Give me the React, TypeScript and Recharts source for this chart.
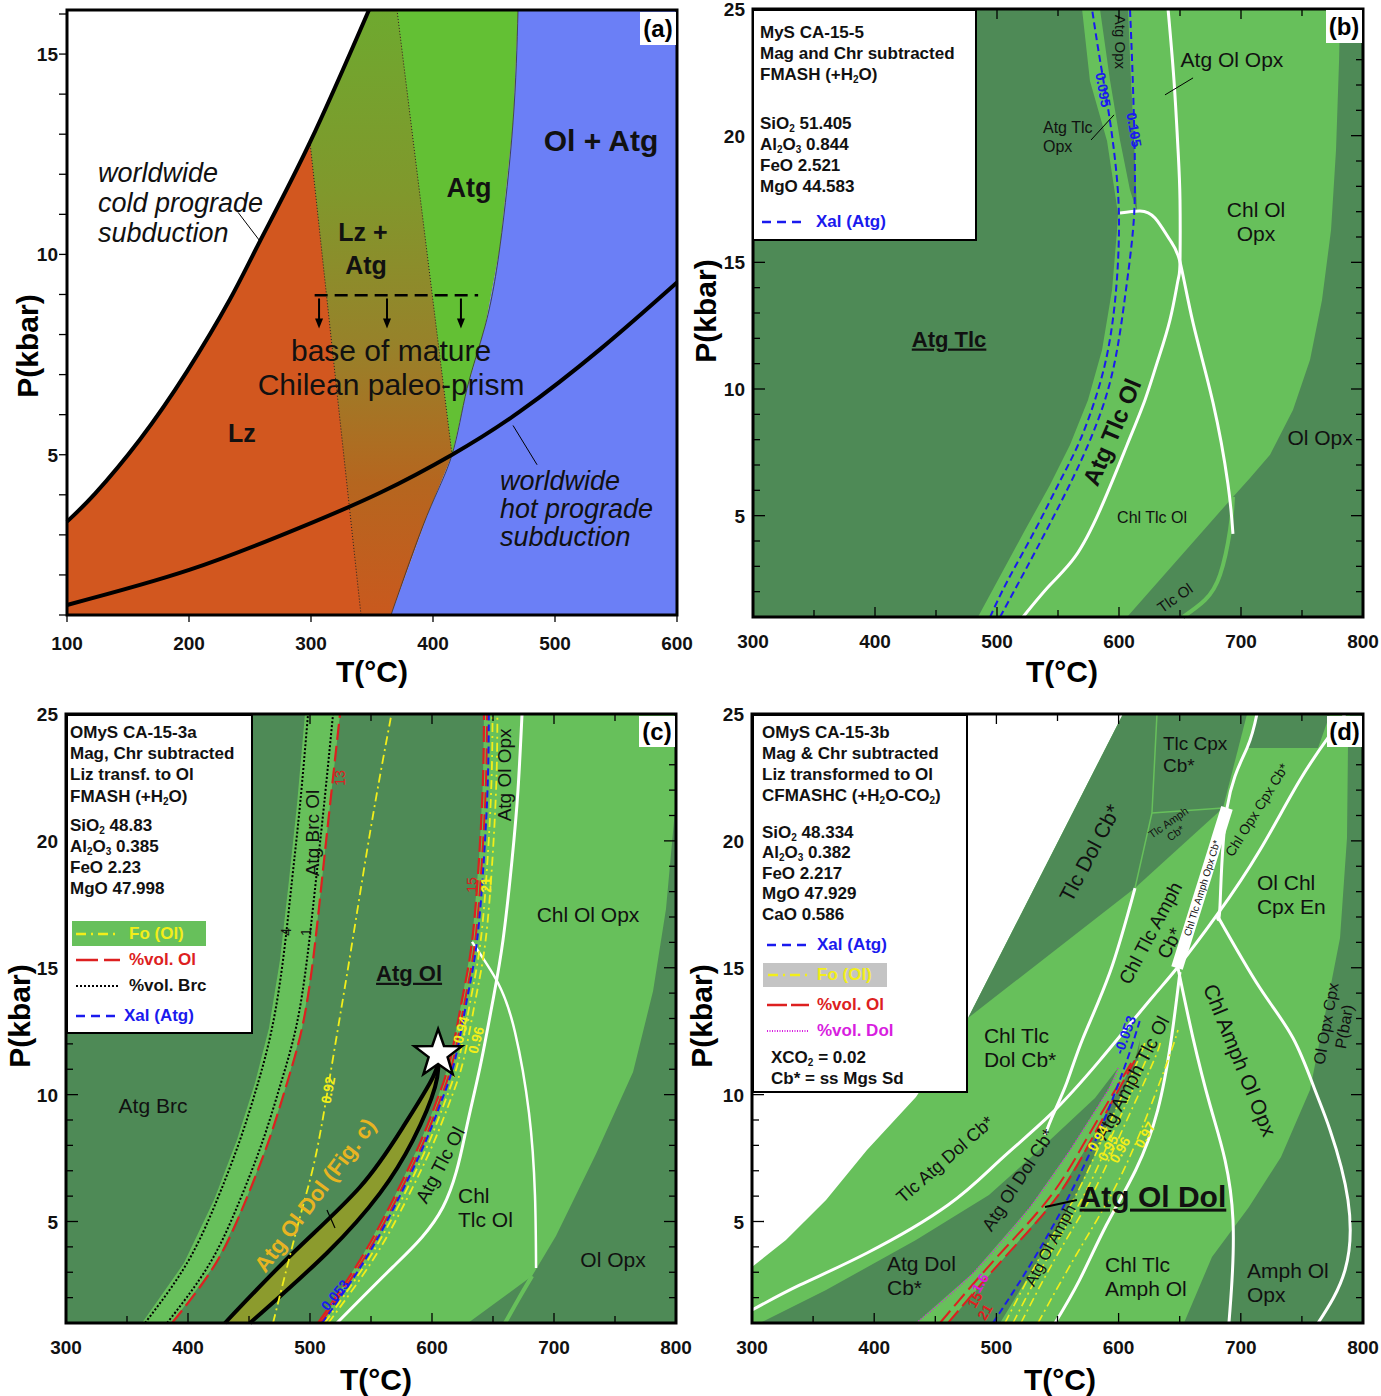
import React from 'react';
import { ComposedChart, Scatter, XAxis, YAxis } from 'recharts';

const FONT = "'Liberation Sans', Arial, Helvetica, sans-serif";

const DARK = '#4e8a56';
const LIGHT = '#67c05b';
const WHITE = '#ffffff';
const BLUE = '#1a1aee';
const RED = '#dd2020';
const YELLOW = '#f2ee1a';
const MAGENTA = '#d81ee0';

const ML = 60;
const MT = 12;
const MR = 16;
const MB = 80;

type Pt = [number, number];
const toXY = (a: Pt[]) => a.map(([x, y]) => ({ x, y }));

// ---------- axes ----------
const ticksA_T = [100, 200, 300, 400, 500, 600];
const ticksA_P = [1, 2, 3, 4, 5, 6, 7, 8, 9, 10, 11, 12, 13, 14, 15, 16];
const ticksT = [300, 350, 400, 450, 500, 550, 600, 650, 700, 750, 800];
const ticksP = [1, 2, 3, 4, 5, 6, 7, 8, 9, 10, 11, 12, 13, 14, 15, 16, 17, 18, 19, 20, 21, 22, 23, 24, 25];

// ---------- panel (a) ----------
const aCold: Pt[] = [[100, 3.33], [123, 4.03], [159.8, 5.38], [198.4, 7.08], [233.6, 8.88], [258.2, 10.33], [299.2, 12.8], [347.5, 16.1]];
const aHot: Pt[] = [[100, 1.25], [200.8, 2.13], [291, 3.18], [356.6, 4.05], [415.6, 5.0], [471.3, 6.08], [536.9, 7.63], [600, 9.3]];
const aAtgOut: Pt[] = [[469.7, 16.1], [465.6, 13.3], [454.9, 10.2], [442.6, 8.2], [427.9, 6.65], [415.6, 5.0], [395.1, 3.48], [365.6, 1]];
const aLzOut: Pt[] = [[370.5, 16.1], [415.6, 5.0]];
const aLzIn: Pt[] = [[299.2, 12.8], [341, 1]];
const aBase: Pt[] = [[303, 8.98], [437, 8.98]];
const aArrows = [{ x: 306.6, y: 8.9 }, { x: 362.3, y: 8.9 }, { x: 422.9, y: 8.9 }];
const aLeadCold: Pt[] = [[240.2, 11.05], [258.2, 10.33]];
const aLeadHot: Pt[] = [[465.6, 5.73], [485.3, 4.75]];

const aItalic = [
  { t: 'worldwide', x: 125.4, y: 12.05 }, { t: 'cold prograde', x: 125.4, y: 11.3 }, { t: 'subduction', x: 125.4, y: 10.55 },
  { t: 'worldwide', x: 454.9, y: 4.35 }, { t: 'hot prograde', x: 454.9, y: 3.65 }, { t: 'subduction', x: 454.9, y: 2.95 },
];
const aBoldMid = [{ t: 'Lz +', x: 342.6, y: 10.55 }, { t: 'Atg', x: 345.1, y: 9.73 }, { t: 'Lz', x: 243.4, y: 5.53 }];
const aBoldAtg = [{ t: 'Atg', x: 429.5, y: 11.68 }];
const aBoldOl = [{ t: 'Ol + Atg', x: 537.7, y: 12.85 }];
const aPrism = [{ t: 'base of mature', x: 365.6, y: 7.6 }, { t: 'Chilean paleo-prism', x: 365.6, y: 6.75 }];

// ---------- panel (b) ----------
const bL: Pt[] = [[484.4, 1], [500.8, 2.46], [523, 4.43], [543.4, 6.21], [559.8, 7.79], [574.6, 9.57], [586.1, 11.54], [594.3, 13.91], [598.4, 16.28], [599.2, 16.92], [590.2, 19.79], [576.2, 22.16], [569.7, 25]];
const bR: Pt[] = [[781.2, 25], [780.4, 22.99], [777.9, 19.44], [773.8, 16.28], [766.4, 13.51], [756.6, 11.15], [742.6, 9.17], [723.8, 7.4], [707.4, 6.49], [693.4, 5.74]];
const bWedge: Pt[] = [[693.4, 5.74], [606.6, 1]];
const bAtgOpx: Pt[] = [[584.4, 25], [592.6, 22.2], [600.8, 19.83], [609, 17.86], [614.8, 17], [612.3, 19.83], [609.8, 22.2], [607.4, 25]];
const bTlcOlEdge: Pt[] = [[693.4, 5.74], [691, 4.43], [682.8, 2.66], [670.5, 1.67], [652.5, 1]];
const bX095: Pt[] = [[494.3, 1], [509, 2.46], [531.2, 4.43], [550, 6.21], [566.4, 7.79], [580.3, 9.57], [591, 11.54], [597.6, 13.91], [600, 16.28], [598.4, 18.25], [592.6, 20.58], [584.4, 22.99], [577.9, 25]];
const bX105: Pt[] = [[502.5, 1], [518.9, 2.46], [539.4, 4.32], [558.2, 6.09], [574.6, 7.79], [588.5, 9.57], [598.4, 11.54], [605.7, 13.91], [611.5, 16.28], [613.1, 18.25], [612.3, 20.58], [610.7, 22.99], [609, 25]];
const bW1: Pt[] = [[521.3, 1], [543.4, 2.26], [563.9, 3.37], [584.4, 5.22], [606.6, 7.79], [621.3, 9.57], [631.2, 11.03], [641.8, 12.73], [648.4, 14.3], [650, 15.02], [650, 17.46], [648.4, 19.44], [645.1, 22.16], [640.2, 25]];
const bW2: Pt[] = [[600.8, 16.95], [617.2, 17.03], [629.5, 16.75], [641.8, 15.88], [650, 15.02], [660.7, 12.61], [677.1, 9.45], [689.3, 6.25], [693.4, 4.28]];
const bLeadA: Pt[] = [[577.1, 19.83], [595.9, 20.82]];
const bLeadB: Pt[] = [[637.7, 21.61], [660.7, 22.28]];

const b21 = [{ t: 'Atg Ol Opx', x: 692.6, y: 22.99 }, { t: 'Chl Ol\nOpx', x: 712.3, y: 16.61 }, { t: 'Ol Opx', x: 764.8, y: 8.07 }];
const b16 = [{ t: 'Chl Tlc Ol', x: 627.1, y: 4.95 }];
const b16Left = [{ t: 'Atg Tlc\nOpx', x: 537.7, y: 19.95 }];
const b15Rot = [{ t: 'Atg Opx', x: 600.8, y: 23.7, r: 90 }, { t: 'Tlc Ol', x: 645.9, y: 1.75, r: -35 }];
const bBoldU = [{ t: 'Atg Tlc', x: 460.7, y: 11.98 }];
const bBoldRot = [{ t: 'Atg Tlc Ol', x: 594.3, y: 8.3, r: -67 }];
const bBlueLbl = [{ t: '0.095', x: 586.9, y: 21.81, r: 80 }, { t: '0.105', x: 612.3, y: 20.23, r: 80 }];

// ---------- panel (c) ----------
const cBrc4: Pt[] = [[364.8, 1], [399.2, 3.36], [423.8, 5.85], [442.6, 8.21], [457.4, 10.46], [468.9, 12.63], [477.9, 15.31], [485.3, 18.46], [491.8, 21.41], [498.4, 25]];
const cBrc1: Pt[] = [[382.8, 1], [418, 3.36], [442.6, 5.85], [461.5, 8.21], [476.2, 10.46], [488.5, 12.63], [497.5, 15.31], [504.9, 18.46], [511.5, 21.41], [518.9, 25]];
const cRed13: Pt[] = [[386.9, 1], [422.9, 3.36], [447.5, 5.85], [466.4, 8.21], [481.2, 10.46], [493.5, 12.63], [502.5, 15.31], [509.8, 18.46], [516.4, 21.41], [524.6, 25]];
const cBrcEdge: Pt[] = [[362.3, 1], [396.7, 3.36], [421.3, 5.85], [440.1, 8.21], [454.9, 10.46], [466.4, 12.63], [475.4, 15.31], [482.8, 18.46], [489.3, 21.41], [495.9, 25]];
const cY92: Pt[] = [[469.7, 1], [491.8, 5.18], [505.7, 7.82], [519.7, 11.68], [533.6, 15.7], [550, 20.55], [566.8, 25]];
const cBandA: Pt[] = [[430.3, 1], [486.1, 3.76], [541, 6.36], [576.2, 8.72], [600.8, 10.69], [605, 11.6]];
const cBandB: Pt[] = [[450.8, 1], [513.9, 3.76], [557.4, 6.12], [584.4, 8.21], [602.5, 10.3], [605, 11.6]];
const cStar = [{ x: 605, y: 11.6 }];
const cTick: Pt[] = [[513.9, 5.45], [520.5, 4.74]];
const cBase: Pt[] = [[506.6, 1], [541, 3.48], [568, 5.85], [590.2, 8.09], [604.1, 9.79], [614.8, 11.36], [624.6, 13.73], [632.8, 16.02], [638.5, 19.25], [641.8, 22.4], [642.6, 25]];
const cRed21: Pt[] = [[508.6, 1], [543.5, 3.48], [570.5, 5.85], [592.7, 8.09], [606.6, 9.79], [617.3, 11.36], [627.1, 13.73], [635.3, 16.02], [641, 19.25], [644.3, 22.4], [645.1, 25]];
const cBlue: Pt[] = [[510, 1], [545, 3.48], [572, 5.85], [594.2, 8.09], [608.1, 9.79], [618.8, 11.36], [628.6, 13.73], [636.8, 16.02], [642.5, 19.25], [645.8, 22.4], [646.6, 25]];
const cY94: Pt[] = [[512, 1], [547.5, 3.48], [575, 5.85], [597.2, 8.09], [611.1, 9.79], [621.8, 11.36], [631.6, 13.73], [639.8, 16.02], [645.5, 19.25], [648.8, 22.4], [649.6, 25]];
const cY96: Pt[] = [[515, 1], [551.5, 3.48], [579, 5.85], [601.2, 8.09], [615.1, 9.79], [625.8, 11.36], [635.6, 13.73], [643.8, 16.02], [649.5, 19.25], [652.8, 22.4], [653.6, 25]];
const cW1: Pt[] = [[522.1, 1], [568, 3.21], [609, 5.57], [627.9, 8.61], [639.4, 11.09], [650, 13.73], [658.2, 16.09], [665.6, 19.25], [670.5, 22.01], [673.8, 25]];
const cW2: Pt[] = [[632.8, 16.02], [654.1, 14.4], [668, 12.47], [679.5, 9.28], [684.4, 6.04], [685.3, 3.17]];
const cOpxEdge: Pt[] = [[800, 21.65], [791.8, 17.32], [781.2, 14.08], [764.8, 10.89], [734.4, 7.66], [701.6, 4.43], [682, 2.85]];
const cWedge: Pt[] = [[682, 2.85], [629.5, 1]];
const cLightEdge: Pt[] = [[682, 2.85], [670.5, 1.91], [659.9, 1]];

const c21 = [{ t: 'Atg Brc', x: 371.3, y: 9.55 }, { t: 'Chl Ol Opx', x: 727.9, y: 17.08 }, { t: 'Ol Opx', x: 748.4, y: 3.48 }];
const c21Left = [{ t: 'Chl\nTlc Ol', x: 621.3, y: 5.55 }];
const c19Rot = [{ t: 'Atg Brc Ol', x: 501.6, y: 20.31, r: -90 }, { t: 'Atg Ol Opx', x: 659, y: 22.6, r: -90 }, { t: 'Atg Tlc Ol', x: 606.6, y: 7.23, r: -62 }];
const cBoldU = [{ t: 'Atg Ol', x: 581.2, y: 14.79 }];
const cGold = [{ t: 'Atg Ol Dol (Fig. c)', x: 504.1, y: 6.04, r: -53 }];
const cNum = [{ t: '4', x: 480.3, y: 16.41, r: -90 }, { t: '1', x: 496.7, y: 16.41, r: -90 }];
const cRedLbl = [{ t: '13', x: 524.6, y: 22.48, r: -90 }, { t: '15', x: 632.8, y: 18.26, r: -90 }];
const cYelLbl = [{ t: '21', x: 644.3, y: 18.26, r: -90 }, { t: '0.92', x: 514.8, y: 10.18, r: -80 }, { t: '0.94', x: 623.8, y: 12.55, r: -75 }, { t: '0.96', x: 636.1, y: 12.15, r: -75 }];
const cBlueLbl = [{ t: '0.053', x: 520.5, y: 2.1, r: -50 }];

// ---------- panel (d) ----------
const dWhite: Pt[] = [[300, 25], [603.6, 25], [476.8, 13.02], [434.2, 9.91], [394.1, 7.82], [360.6, 5.85], [327.8, 4.27], [300, 3.21]];
const dD1: Pt[] = [[603.6, 25], [705.1, 25], [685.4, 21.3], [613.4, 18.14], [476.8, 13.02]];
const dD1LineA: Pt[] = [[631.4, 25], [627.3, 21.1], [613.4, 18.14]];
const dD1LineB: Pt[] = [[627.3, 21.1], [685.4, 21.3]];
const dD2: Pt[] = [[713.2, 25], [773, 25], [763.2, 23.66], [705.9, 23.66]];
const dD3: Pt[] = [[789.4, 25], [800, 25], [800, 1], [653.5, 1], [676.4, 3.6], [706.7, 5.57], [732.9, 7.54], [756.6, 10.18], [770.5, 13.53], [781.2, 16.17], [786.9, 20.11], [787.7, 23.66]];
const dD4Left: Pt[] = [[306.5, 1], [360.6, 2.3], [434.2, 4.27], [493.9, 6.04], [543.9, 8.21], [580.7, 9.87], [599.5, 11.05]];
const dMag: Pt[] = [[599.5, 11.05], [591.3, 10.18], [560.2, 7.82], [527.5, 5.57], [480.8, 2.97], [434.2, 1]];
const dD5: Pt[] = [[460.4, 1], [507, 3.6], [549.6, 5.97], [580.7, 8.49], [613.4, 11.36], [617.5, 12.15], [615.9, 11.36], [588.9, 8.49], [564.3, 5.97], [535.7, 3.6], [503, 1]];
const dRed15: Pt[] = [[453.8, 1], [500.5, 3.6], [543.9, 5.97], [576.6, 8.49], [611.8, 11.36]];
const dRed21: Pt[] = [[460.4, 1], [507, 3.6], [549.6, 5.97], [580.7, 8.49], [613.4, 11.36]];
const dBlue: Pt[] = [[497.2, 1], [531.6, 3.6], [561.9, 6.24], [587.2, 8.88], [606.9, 11.36], [617.5, 12.94]];
const dY94: Pt[] = [[507, 1], [535.7, 3.6], [564.3, 5.97], [588.9, 8.49], [615.9, 11.36], [621.6, 12.15]];
const dY95: Pt[] = [[513.6, 1], [542.2, 3.6], [570.9, 5.97], [595.4, 8.49], [622.4, 11.36], [627.3, 12.15]];
const dY96: Pt[] = [[520.1, 1], [548.8, 3.6], [577.4, 5.97], [602, 8.49], [629, 11.36], [633.9, 12.15]];
const dY97: Pt[] = [[534, 1], [564.3, 3.6], [593, 5.97], [617.5, 8.49], [640.4, 11.36], [648.6, 12.55]];
const dW1: Pt[] = [[300, 1.51], [339.3, 2.5], [394.1, 3.76], [460.4, 5.65], [502.9, 7.42], [543.9, 9.2], [584.8, 11.36], [625.7, 13.73], [647.8, 14.99], [680.5, 17.08], [715.7, 19.64], [748.4, 22.4], [773, 24.17], [785.3, 25]];
const dW2: Pt[] = [[613.4, 18.14], [593, 14.83], [570.9, 12.23], [557.8, 10.5], [546.3, 9.2], [539.8, 8.41]];
const dW3: Pt[] = [[713.2, 25], [705.1, 23.66], [688.7, 21.3], [683, 17.47], [680.5, 17.08]];
const dW4: Pt[] = [[688.7, 21.3], [647.8, 14.99]];
const dW5: Pt[] = [[648.6, 14.99], [660.9, 12.23], [674.8, 9.59], [687.1, 7.42], [693.6, 5.06], [692.8, 2.69], [690.3, 1]];
const dW6: Pt[] = [[680.5, 17.08], [715.7, 14.2], [742.7, 12.23], [760.7, 10.18], [773, 8.61], [787.7, 5.85], [785.3, 3.09], [763.2, 1]];
const dW8: Pt[] = [[650.2, 14.83], [643, 12.15], [632, 9.39], [614, 7.03], [590, 4.86], [568, 2.69], [548, 1]];
const dLead: Pt[] = [[539.8, 5.57], [565.9, 5.85]];

const d21 = [{ t: 'Ol Chl\nCpx En', x: 713.2, y: 17.87 }, { t: 'Chl Tlc\nDol Cb*', x: 489.8, y: 11.86 }, { t: 'Atg Dol\nCb*', x: 410.5, y: 2.88 }, { t: 'Chl Tlc\nAmph Ol', x: 588.9, y: 2.82 }, { t: 'Amph Ol\nOpx', x: 705.1, y: 2.6 }];
const d19Left = [{ t: 'Tlc Cpx\nCb*', x: 636.3, y: 23.41 }];
const d21Rot = [{ t: 'Tlc Dol Cb*', x: 576.6, y: 19.52, r: -62 }, { t: 'Chl Amph Ol Opx', x: 699.3, y: 11.36, r: 68 }];
const d19Rot = [{ t: 'Chl Tlc Amph\nCb*', x: 633.9, y: 16.17, r: -62 }, { t: 'Atg Amph Tlc Ol', x: 611, y: 10.66, r: -62 }];
const d18Rot = [{ t: 'Tlc Atg Dol Cb*', x: 457.9, y: 7.45, r: -41 }, { t: 'Atg Ol Dol Cb*', x: 517.7, y: 6.64, r: -57 }];
const d16Rot = [{ t: 'Atg Ol Amph', x: 543.9, y: 4.07, r: -62 }, { t: 'Ol Opx Cpx\nP(bar)', x: 777.1, y: 12.74, r: -80 }];
const d14Rot = [{ t: 'Chl Opx Cpx Cb*', x: 713.2, y: 21.22, r: -58 }];
const d11Rot = [{ t: 'Tlc Amph\nCb*', x: 643.7, y: 20.51, r: -35 }];
const d10Rot = [{ t: 'Chl Tlc Amph Opx Cb*', x: 668.2, y: 18.14, r: -72.6 }];
const dBoldU = [{ t: 'Atg Ol Dol', x: 628.1, y: 6.0 }];
const dYelLbl = [{ t: '0.94', x: 583.1, y: 8.29, r: -60 }, { t: '0.95', x: 591.3, y: 7.9, r: -60 }, { t: '0.96', x: 601.1, y: 7.82, r: -60 }, { t: '0.97', x: 621.6, y: 8.41, r: -60 }];
const dBlueLbl = [{ t: '-0.053', x: 605.2, y: 12.35, r: -70 }];
const dMagLbl = [{ t: '1.6', x: 486.6, y: 2.58, r: -60 }];
const dRedLbl = [{ t: '15', x: 482.5, y: 1.91, r: -60 }, { t: '21', x: 490.7, y: 1.43, r: -60 }];

// ---------- drawing helpers ----------
const none = () => <g />;

const fillPoly = (key: string, pts: Pt[], fill: string) => (
  <Scatter key={key} data={toXY(pts)} shape={none} line={{ fill, stroke: 'none' }} lineJointType="linear" isAnimationActive={false} />
);

const strokeLine = (key: string, pts: Pt[], stroke: string, width: number, dash?: string, joint: any = 'natural') => (
  <Scatter
    key={key}
    data={toXY(pts)}
    shape={none}
    line={{ stroke, strokeWidth: width, strokeDasharray: dash, fill: 'none' }}
    lineJointType={joint}
    isAnimationActive={false}
  />
);

interface TxtStyle {
  size: number;
  weight?: number;
  italic?: boolean;
  color?: string;
  anchor?: 'start' | 'middle' | 'end';
  underline?: boolean;
}

const txt = (st: TxtStyle) => (p: any) => {
  const { cx, cy, payload } = p;
  if (cx == null || cy == null || !payload) return <g />;
  const lines = String(payload.t).split('\n');
  const lh = st.size * 1.15;
  const y0 = cy - ((lines.length - 1) * lh) / 2 + st.size * 0.35;
  return (
    <text
      transform={payload.r ? `rotate(${payload.r} ${cx} ${cy})` : undefined}
      textAnchor={st.anchor || 'middle'}
      style={{
        fontFamily: FONT,
        fontSize: st.size,
        fontWeight: st.weight || 400,
        fontStyle: st.italic ? 'italic' : 'normal',
        fill: st.color || '#111',
        textDecoration: st.underline ? 'underline' : 'none',
      }}
    >
      {lines.map((l, i) => (
        <tspan key={i} x={cx} y={y0 + i * lh}>
          {l}
        </tspan>
      ))}
    </text>
  );
};

const textLayer = (key: string, items: any[], st: TxtStyle) => (
  <Scatter key={key} data={items} shape={txt(st)} isAnimationActive={false} />
);

const starShape = (p: any) => {
  const { cx, cy } = p;
  const pts: string[] = [];
  for (let i = 0; i < 10; i++) {
    const rad = i % 2 === 0 ? 25 : 10;
    const a = (-90 + i * 36) * (Math.PI / 180);
    pts.push(`${cx + rad * Math.cos(a)},${cy + rad * Math.sin(a)}`);
  }
  return <polygon points={pts.join(' ')} fill="#fff" stroke="#000" strokeWidth={2.5} strokeLinejoin="miter" />;
};

const arrowShape = (p: any) => {
  const { cx, cy } = p;
  return (
    <g>
      <line x1={cx} y1={cy} x2={cx} y2={cy + 22} stroke="#000" strokeWidth={2} />
      <path d={`M${cx - 4},${cy + 20} L${cx + 4},${cy + 20} L${cx},${cy + 30} Z`} fill="#000" />
    </g>
  );
};

const tickFont = { fontFamily: FONT, fontSize: 19, fontWeight: 700, fill: '#111' };

const mkXTick = (ph: number, inward: boolean) => (p: any) => {
  const v = p.payload.value;
  const x = p.x;
  const yb = MT + ph;
  if (!inward) {
    return (
      <g>
        <line x1={x} x2={x} y1={yb} y2={yb + 7} stroke="#000" strokeWidth={1.3} />
        <text x={x} y={yb + 35} textAnchor="middle" style={tickFont}>{v}</text>
      </g>
    );
  }
  const major = v % 100 === 0;
  const len = major ? 10 : 7;
  return (
    <g>
      <line x1={x} x2={x} y1={yb} y2={yb - len} stroke="#000" strokeWidth={1.3} />
      <line x1={x} x2={x} y1={MT} y2={MT + len} stroke="#000" strokeWidth={1.3} />
      {major && <text x={x} y={yb + 31} textAnchor="middle" style={tickFont}>{v}</text>}
    </g>
  );
};

const mkYTick = (pw: number, inward: boolean) => (p: any) => {
  const v = p.payload.value;
  const y = p.y;
  const major = v % 5 === 0;
  if (!inward) {
    return (
      <g>
        <line x1={ML - 8} x2={ML} y1={y} y2={y} stroke="#000" strokeWidth={1.3} />
        {major && <text x={ML - 9} y={y + 7} textAnchor="end" style={tickFont}>{v}</text>}
      </g>
    );
  }
  const len = major ? 12 : 7;
  return (
    <g>
      <line x1={ML} x2={ML + len} y1={y} y2={y} stroke="#000" strokeWidth={1.3} />
      <line x1={ML + pw} x2={ML + pw - len} y1={y} y2={y} stroke="#000" strokeWidth={1.3} />
      {major && <text x={ML - 8} y={y + 7} textAnchor="end" style={tickFont}>{v}</text>}
    </g>
  );
};

interface PanelProps {
  px: number;
  py: number;
  pw: number;
  ph: number;
  xDom: [number, number];
  yDom: [number, number];
  xTicks: number[];
  yTicks: number[];
  inward: boolean;
  children: React.ReactNode;
}

const Panel = ({ px, py, pw, ph, xDom, yDom, xTicks, yTicks, inward, children }: PanelProps) => {
  const W = pw + ML + MR;
  const H = ph + MT + MB;
  const frame: Pt[] = [[xDom[0], yDom[0]], [xDom[1], yDom[0]], [xDom[1], yDom[1]], [xDom[0], yDom[1]]];
  return (
    <div style={{ position: 'absolute', left: px - ML, top: py - MT, width: W, height: H }}>
      <ComposedChart width={W} height={H} margin={{ top: MT, right: MR, left: 0, bottom: 0 }}>
        <defs>
          <linearGradient id="oliveGrad" x1="0" y1="0" x2="0" y2="1">
            <stop offset="0%" stopColor="#6ea92f" />
            <stop offset="30%" stopColor="#80982c" />
            <stop offset="55%" stopColor="#97822a" />
            <stop offset="78%" stopColor="#b5661f" />
            <stop offset="100%" stopColor="#c9591e" />
          </linearGradient>
        </defs>
        {children}
        {strokeLine('frame', frame, '#000', 3, undefined, 'linearClosed')}
        <XAxis
          type="number"
          dataKey="x"
          domain={xDom}
          ticks={xTicks}
          interval={0}
          height={MB}
          axisLine={false}
          tickLine={false}
          tickSize={0}
          tickMargin={0}
          tick={mkXTick(ph, inward)}
        />
        <YAxis
          type="number"
          dataKey="y"
          domain={yDom}
          ticks={yTicks}
          interval={0}
          width={ML}
          axisLine={false}
          tickLine={false}
          tickSize={0}
          tickMargin={0}
          tick={mkYTick(pw, inward)}
        />
      </ComposedChart>
    </div>
  );
};

// ---------- html annotations ----------
const Title = ({ x, y, text, rot }: { x: number; y: number; text: string; rot?: boolean }) => (
  <div
    style={{
      position: 'absolute',
      left: x,
      top: y,
      transform: `translate(-50%, -50%)${rot ? ' rotate(-90deg)' : ''}`,
      fontFamily: FONT,
      fontWeight: 700,
      fontSize: 30,
      whiteSpace: 'nowrap',
      lineHeight: '32px',
    }}
  >
    {text}
  </div>
);

const Tag = ({ x, y, w, h, text }: { x: number; y: number; w: number; h: number; text: string }) => (
  <div
    style={{
      position: 'absolute',
      left: x,
      top: y,
      width: w,
      height: h,
      background: '#fff',
      fontFamily: FONT,
      fontWeight: 700,
      fontSize: 24,
      lineHeight: `${h}px`,
      textAlign: 'center',
    }}
  >
    {text}
  </div>
);

const Box = ({ x, y, w, h }: { x: number; y: number; w: number; h: number }) => (
  <div style={{ position: 'absolute', left: x, top: y, width: w, height: h, background: '#fff', border: '2px solid #000', boxSizing: 'border-box' }} />
);

const Row = ({ x, y, color, children }: { x: number; y: number; color?: string; children: React.ReactNode }) => (
  <div
    style={{
      position: 'absolute',
      left: x,
      top: y - 11,
      fontFamily: FONT,
      fontWeight: 700,
      fontSize: 17,
      lineHeight: '22px',
      color: color || '#111',
      whiteSpace: 'nowrap',
    }}
  >
    {children}
  </div>
);

const Sub = ({ c }: { c: string }) => <span style={{ fontSize: 10, verticalAlign: '-3px' }}>{c}</span>;

const Sample = ({ x, y, w, stroke, dash, width }: { x: number; y: number; w: number; stroke: string; dash?: string; width: number }) => (
  <svg style={{ position: 'absolute', left: x, top: y - 5 }} width={w} height={10}>
    <line x1={0} y1={5} x2={w} y2={5} stroke={stroke} strokeWidth={width} strokeDasharray={dash} />
  </svg>
);

const Patch = ({ x, y, w, h, color }: { x: number; y: number; w: number; h: number; color: string }) => (
  <div style={{ position: 'absolute', left: x, top: y, width: w, height: h, background: color }} />
);

export default function App() {
  const orange: Pt[] = [[100, 1], ...aCold, ...aAtgOut];
  const blue: Pt[] = [...aAtgOut, [600, 1], [600, 16.1]];
  const olive: Pt[] = [...[...aLzIn].reverse(), aCold[aCold.length - 1], ...aLzOut, ...aAtgOut.slice(6)];
  const green: Pt[] = [...aLzOut, ...aAtgOut.slice(0, 6).reverse()];

  const bLight: Pt[] = [...bL, ...bR, bWedge[1]];
  const cLight: Pt[] = [...cBase, [800, 25], ...cOpxEdge, cWedge[1]];
  const cBrcBand: Pt[] = [...cBrcEdge, ...[...cRed13].reverse()];
  const cOlive: Pt[] = [...cBandA, ...[...cBandB].reverse()];
  const dD4: Pt[] = [...dD4Left, ...dMag.slice(1)];

  const DASH_BLUE = '7 4';
  const DASH_RED = '16 6';
  const DASH_YEL = '9 4 2 4';

  return (
    <div style={{ position: 'absolute', left: 0, top: 0, width: 1381, height: 1396, background: '#fff', overflow: 'hidden' }}>
      {/* (a) */}
      <Panel px={67} py={10} pw={610} ph={605} xDom={[100, 600]} yDom={[1, 16.1]} xTicks={ticksA_T} yTicks={ticksA_P} inward={false}>
        {fillPoly('a-or', orange, '#d2571f')}
        {fillPoly('a-bl', blue, '#6b7ff6')}
        {fillPoly('a-ol', olive, 'url(#oliveGrad)')}
        {fillPoly('a-gr', green, '#63c034')}
        {strokeLine('a-lzin', aLzIn, '#222', 1, '1 2', 'linear')}
        {strokeLine('a-lzout', aLzOut, '#222', 1, '1 2', 'linear')}
        {strokeLine('a-atg', aAtgOut, '#333', 0.8)}
        {strokeLine('a-cold', aCold, '#000', 4)}
        {strokeLine('a-hot', aHot, '#000', 4)}
        {strokeLine('a-base', aBase, '#000', 2.5, '13 7', 'linear')}
        <Scatter key="a-arr" data={aArrows} shape={arrowShape} isAnimationActive={false} />
        {strokeLine('a-l1', aLeadCold, '#000', 1, undefined, 'linear')}
        {strokeLine('a-l2', aLeadHot, '#000', 1, undefined, 'linear')}
        {textLayer('a-it', aItalic, { size: 27, italic: true, anchor: 'start' })}
        {textLayer('a-b1', aBoldMid, { size: 25, weight: 700 })}
        {textLayer('a-b2', aBoldAtg, { size: 27, weight: 700 })}
        {textLayer('a-b3', aBoldOl, { size: 30, weight: 700 })}
        {textLayer('a-pr', aPrism, { size: 30 })}
      </Panel>

      {/* (b) */}
      <Panel px={753} py={9} pw={610} ph={608} xDom={[300, 800]} yDom={[1, 25]} xTicks={ticksT} yTicks={ticksP} inward>
        {fillPoly('b-bg', [[300, 1], [800, 1], [800, 25], [300, 25]], DARK)}
        {fillPoly('b-li', bLight, LIGHT)}
        {fillPoly('b-ao', bAtgOpx, DARK)}
        {strokeLine('b-te', bTlcOlEdge, LIGHT, 4)}
        {strokeLine('b-w1', bW1, WHITE, 3)}
        {strokeLine('b-w2', bW2, WHITE, 3)}
        {strokeLine('b-x1', bX095, BLUE, 2, DASH_BLUE)}
        {strokeLine('b-x2', bX105, BLUE, 2, DASH_BLUE)}
        {strokeLine('b-la', bLeadA, '#000', 1, undefined, 'linear')}
        {strokeLine('b-lb', bLeadB, '#000', 1, undefined, 'linear')}
        {textLayer('b-t21', b21, { size: 21 })}
        {textLayer('b-t16', b16, { size: 16 })}
        {textLayer('b-t16l', b16Left, { size: 16, anchor: 'start' })}
        {textLayer('b-t15', b15Rot, { size: 15 })}
        {textLayer('b-bu', bBoldU, { size: 22, weight: 700, underline: true })}
        {textLayer('b-br', bBoldRot, { size: 24, weight: 700 })}
        {textLayer('b-bl', bBlueLbl, { size: 14, weight: 700, color: BLUE })}
      </Panel>

      {/* (c) */}
      <Panel px={66} py={714} pw={610} ph={609} xDom={[300, 800]} yDom={[1, 25]} xTicks={ticksT} yTicks={ticksP} inward>
        {fillPoly('c-bg', [[300, 1], [800, 1], [800, 25], [300, 25]], DARK)}
        {fillPoly('c-brc', cBrcBand, LIGHT)}
        {fillPoly('c-li', cLight, LIGHT)}
        {strokeLine('c-le', cLightEdge, LIGHT, 4)}
        {fillPoly('c-ol', cOlive, '#8c9b2d')}
        {strokeLine('c-ba', cBandA, '#000', 4)}
        {strokeLine('c-bb', cBandB, '#000', 4)}
        {strokeLine('c-tk', cTick, '#000', 1.2, undefined, 'linear')}
        {strokeLine('c-b4', cBrc4, '#000', 2, '2 2')}
        {strokeLine('c-b1', cBrc1, '#000', 2, '2 2')}
        {strokeLine('c-r13', cRed13, RED, 2.2, DASH_RED)}
        {strokeLine('c-y92', cY92, YELLOW, 1.8, DASH_YEL)}
        {strokeLine('c-w1', cW1, WHITE, 3)}
        {strokeLine('c-w2', cW2, WHITE, 2.5)}
        {strokeLine('c-r15', cBase, RED, 2.2, DASH_RED)}
        {strokeLine('c-r21', cRed21, RED, 2, DASH_RED)}
        {strokeLine('c-bl', cBlue, BLUE, 2, DASH_BLUE)}
        {strokeLine('c-y94', cY94, YELLOW, 1.8, DASH_YEL)}
        {strokeLine('c-y96', cY96, YELLOW, 1.8, DASH_YEL)}
        <Scatter key="c-star" data={cStar} shape={starShape} isAnimationActive={false} />
        {textLayer('c-t21', c21, { size: 21 })}
        {textLayer('c-t21l', c21Left, { size: 21, anchor: 'start' })}
        {textLayer('c-t19', c19Rot, { size: 19 })}
        {textLayer('c-bu', cBoldU, { size: 22, weight: 700, underline: true })}
        {textLayer('c-gd', cGold, { size: 22, weight: 700, color: '#e8b422' })}
        {textLayer('c-nm', cNum, { size: 14 })}
        {textLayer('c-rl', cRedLbl, { size: 14, color: RED })}
        {textLayer('c-yl', cYelLbl, { size: 14, weight: 700, color: YELLOW })}
        {textLayer('c-bll', cBlueLbl, { size: 14, weight: 700, color: BLUE })}
      </Panel>

      {/* (d) */}
      <Panel px={752} py={714} pw={611} ph={609} xDom={[300, 800]} yDom={[1, 25]} xTicks={ticksT} yTicks={ticksP} inward>
        {fillPoly('d-bg', [[300, 1], [800, 1], [800, 25], [300, 25]], LIGHT)}
        {fillPoly('d-wh', dWhite, WHITE)}
        {fillPoly('d-d1', dD1, DARK)}
        {fillPoly('d-d2', dD2, DARK)}
        {fillPoly('d-d3', dD3, DARK)}
        {fillPoly('d-d4', dD4, DARK)}
        {fillPoly('d-d5', dD5, DARK)}
        {strokeLine('d-la', dD1LineA, LIGHT, 1.5, undefined, 'linear')}
        {strokeLine('d-lb', dD1LineB, LIGHT, 1.5, undefined, 'linear')}
        {strokeLine('d-w1', dW1, WHITE, 3)}
        {strokeLine('d-w2', dW2, WHITE, 3)}
        {strokeLine('d-w3', dW3, WHITE, 3)}
        {strokeLine('d-w4', dW4, WHITE, 12, undefined, 'linear')}
        {strokeLine('d-w5', dW5, WHITE, 3)}
        {strokeLine('d-w6', dW6, WHITE, 3)}
        {strokeLine('d-w8', dW8, WHITE, 3)}
        {strokeLine('d-mg', dMag, MAGENTA, 1.5, '1 2')}
        {strokeLine('d-r15', dRed15, RED, 2, DASH_RED)}
        {strokeLine('d-r21', dRed21, RED, 2, DASH_RED)}
        {strokeLine('d-bl', dBlue, BLUE, 2, DASH_BLUE)}
        {strokeLine('d-y94', dY94, YELLOW, 1.6, DASH_YEL)}
        {strokeLine('d-y95', dY95, YELLOW, 1.6, DASH_YEL)}
        {strokeLine('d-y96', dY96, YELLOW, 1.6, DASH_YEL)}
        {strokeLine('d-y97', dY97, YELLOW, 1.6, DASH_YEL)}
        {strokeLine('d-ld', dLead, '#000', 2, undefined, 'linear')}
        {textLayer('d-t21', d21, { size: 21, anchor: 'start' })}
        {textLayer('d-t19l', d19Left, { size: 19, anchor: 'start' })}
        {textLayer('d-t21r', d21Rot, { size: 21 })}
        {textLayer('d-t19r', d19Rot, { size: 19 })}
        {textLayer('d-t18r', d18Rot, { size: 18 })}
        {textLayer('d-t16r', d16Rot, { size: 16 })}
        {textLayer('d-t14r', d14Rot, { size: 14 })}
        {textLayer('d-t11r', d11Rot, { size: 11 })}
        {textLayer('d-t10r', d10Rot, { size: 10 })}
        {textLayer('d-bu', dBoldU, { size: 30, weight: 700, underline: true })}
        {textLayer('d-yl', dYelLbl, { size: 14, weight: 700, color: YELLOW })}
        {textLayer('d-bll', dBlueLbl, { size: 14, weight: 700, color: BLUE })}
        {textLayer('d-ml', dMagLbl, { size: 14, weight: 700, color: MAGENTA })}
        {textLayer('d-rl', dRedLbl, { size: 14, weight: 700, color: RED })}
      </Panel>

      {/* axis titles */}
      <Title x={28} y={346} text="P(kbar)" rot />
      <Title x={372} y={672} text="T(°C)" />
      <Title x={706} y={311} text="P(kbar)" rot />
      <Title x={1062} y={672} text="T(°C)" />
      <Title x={20} y={1016} text="P(kbar)" rot />
      <Title x={376} y={1380} text="T(°C)" />
      <Title x={702} y={1016} text="P(kbar)" rot />
      <Title x={1060} y={1380} text="T(°C)" />

      {/* panel tags */}
      <Tag x={640} y={12} w={36} h={33} text="(a)" />
      <Tag x={1326} y={10} w={36} h={33} text="(b)" />
      <Tag x={639} y={716} w={36} h={31} text="(c)" />
      <Tag x={1327} y={716} w={35} h={31} text="(d)" />

      {/* legend (b) */}
      <Box x={752} y={9} w={225} h={232} />
      <Row x={760} y={33}>MyS CA-15-5</Row>
      <Row x={760} y={54}>Mag and Chr subtracted</Row>
      <Row x={760} y={75}>FMASH (+H<Sub c="2" />O)</Row>
      <Row x={760} y={124}>SiO<Sub c="2" /> 51.405</Row>
      <Row x={760} y={145}>Al<Sub c="2" />O<Sub c="3" /> 0.844</Row>
      <Row x={760} y={166}>FeO 2.521</Row>
      <Row x={760} y={187}>MgO 44.583</Row>
      <Sample x={762} y={222} w={44} stroke={BLUE} dash="9 6" width={2.5} />
      <Row x={816} y={222} color={BLUE}>Xal (Atg)</Row>

      {/* legend (c) */}
      <Box x={66} y={714} w={187} h={320} />
      <Row x={70} y={733}>OMyS CA-15-3a</Row>
      <Row x={70} y={754}>Mag, Chr subtracted</Row>
      <Row x={70} y={775}>Liz transf. to Ol</Row>
      <Row x={70} y={797}>FMASH (+H<Sub c="2" />O)</Row>
      <Row x={70} y={826}>SiO<Sub c="2" /> 48.83</Row>
      <Row x={70} y={847}>Al<Sub c="2" />O<Sub c="3" /> 0.385</Row>
      <Row x={70} y={868}>FeO 2.23</Row>
      <Row x={70} y={889}>MgO 47.998</Row>
      <Patch x={72} y={921} w={134} h={25} color={LIGHT} />
      <Sample x={76} y={934} w={44} stroke={YELLOW} dash="10 5 2 5" width={2.5} />
      <Row x={129} y={934} color={YELLOW}>Fo (Ol)</Row>
      <Sample x={76} y={960} w={44} stroke={RED} dash="22 6" width={2.5} />
      <Row x={129} y={960} color={RED}>%vol. Ol</Row>
      <Sample x={76} y={986} w={44} stroke="#000" dash="2 2" width={2} />
      <Row x={129} y={986}>%vol. Brc</Row>
      <Sample x={76} y={1016} w={40} stroke={BLUE} dash="9 6" width={2.5} />
      <Row x={124} y={1016} color={BLUE}>Xal (Atg)</Row>

      {/* legend (d) */}
      <Box x={752} y={714} w={216} h={379} />
      <Row x={762} y={733}>OMyS CA-15-3b</Row>
      <Row x={762} y={754}>Mag &amp; Chr subtracted</Row>
      <Row x={762} y={775}>Liz transformed to Ol</Row>
      <Row x={762} y={796}>CFMASHC (+H<Sub c="2" />O-CO<Sub c="2" />)</Row>
      <Row x={762} y={833}>SiO<Sub c="2" /> 48.334</Row>
      <Row x={762} y={853}>Al<Sub c="2" />O<Sub c="3" /> 0.382</Row>
      <Row x={762} y={874}>FeO 2.217</Row>
      <Row x={762} y={894}>MgO 47.929</Row>
      <Row x={762} y={915}>CaO 0.586</Row>
      <Sample x={767} y={945} w={42} stroke={BLUE} dash="9 6" width={2.5} />
      <Row x={817} y={945} color={BLUE}>Xal (Atg)</Row>
      <Patch x={763} y={963} w={124} h={24} color="#c4c4c4" />
      <Sample x={768} y={975} w={40} stroke={YELLOW} dash="10 5 2 5" width={2.5} />
      <Row x={817} y={975} color={YELLOW}>Fo (Ol)</Row>
      <Sample x={767} y={1005} w={42} stroke={RED} dash="20 4" width={2.5} />
      <Row x={817} y={1005} color={RED}>%vol. Ol</Row>
      <Sample x={767} y={1031} w={42} stroke={MAGENTA} dash="1 1.5" width={2} />
      <Row x={817} y={1031} color={MAGENTA}>%vol. Dol</Row>
      <Row x={771} y={1058}>XCO<Sub c="2" /> = 0.02</Row>
      <Row x={771} y={1079}>Cb* = ss Mgs Sd</Row>
    </div>
  );
}
